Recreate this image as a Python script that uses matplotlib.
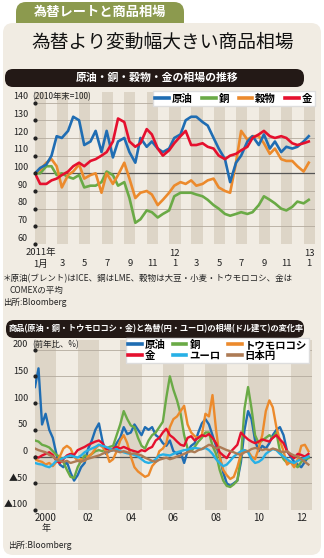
import numpy as np
import pandas as pd
import matplotlib
matplotlib.use("Agg")
import matplotlib.pyplot as plt
import matplotlib.dates as mdates
import matplotlib.transforms as mtrans
from matplotlib.patches import FancyBboxPatch
from matplotlib.lines import Line2D

plt.rcParams['font.family'] = ['Noto Sans CJK JP', 'DejaVu Sans']

# ---- 上段: 2010年末=100 の相場 (半月ごと, 2011/1/1〜2013/1/15)
dates1 = pd.date_range('2011-01-01', periods=50, freq='SMS')
oil1 = [100, 103, 105, 110, 121, 120, 124, 132, 130, 116,
        118, 124, 112, 124, 109, 118, 120, 112, 106, 120,
        115, 118, 114, 112, 114, 120, 122, 130, 132, 132,
        129, 127, 120, 114, 108, 95, 106, 110, 118, 121,
        116, 122, 114, 118, 112, 115, 114, 115, 118, 121]
copper1 = [100, 100, 104, 104, 99, 100, 98, 97, 99, 92,
           93, 93, 95, 101, 99, 93, 95, 86, 72, 74,
           79, 78, 75, 77, 79, 87, 89, 89, 89, 88,
           87, 85, 82, 80, 77, 76, 77, 78, 77, 78,
           82, 87, 85, 83, 80, 79, 81, 84, 83, 85]
grain1 = [100, 102, 106, 108, 104, 92, 99, 101, 105, 97,
          99, 100, 89, 100, 94, 99, 106, 97, 86, 89,
          90, 88, 82, 85, 89, 93, 95, 94, 96, 93,
          94, 96, 97, 92, 90, 89, 106, 124, 119, 121,
          121, 117, 111, 114, 108, 107, 107, 104, 101, 106]
gold1 = [100, 94, 94, 96, 97, 99, 101, 104, 106, 104,
         107, 108, 110, 112, 118, 131, 129, 118, 115, 117,
         125, 122, 114, 110, 113, 117, 121, 124, 116, 116,
         117, 115, 114, 110, 108, 110, 111, 113, 115, 120,
         122, 124, 121, 120, 121, 120, 117, 116, 117, 118]

# ---- 下段: 前年比 % (2カ月ごと, 2000/1〜2012/11)
dates2 = pd.date_range('2000-01-01', periods=78, freq='2MS')
oil2 = [130, 165, 60, 80, 50, 35, 5, -15, -20, -10,
        -30, -45, -35, -20, -12, 15, 30, 50, 62, 30,
        5, 10, 12, 25, 35, 55, 42, 45, 60, 50,
        40, 55, 50, 55, 40, 35, 25, 20, 30, 10,
        5, 8, -12, 10, 20, 25, 45, 62, 70, 60,
        40, 20, 0, -30, -50, -55, -50, -45, -10, 50,
        85, 70, 30, 10, 20, 15, 25, 40, 50, 55,
        40, 10, 0, -10, -15, -20, -10, 0]
copper2 = [30, 28, 22, 20, 17, 10, 3, 0, -10, -25,
           -38, -40, -20, -8, 2, 0, 5, 10, 12, 10,
           15, 18, 20, 40, 60, 85, 70, 58, 55, 35,
           20, 15, 30, 40, 45, 55, 65, 110, 150, 125,
           105, 80, 40, 15, 10, 18, 28, 35, 45, 45,
           20, 5, -25, -45, -55, -57, -52, -45, 0, 90,
           130, 90, 40, 25, 30, 35, 40, 35, 45, 10,
           -5, -12, -10, -15, -20, -10, -5, -3]
corn2 = [-5, -8, -10, -15, -12, -18, -10, 0, 15, 20,
         15, 0, -8, -5, -8, 0, 5, 15, 22, 18,
         10, -10, -5, 10, 30, 40, 25, 0, -20, -28,
         -33, -38, -35, -18, -10, 10, 15, 25, 55, 70,
         75, 85, 95, 60, 45, 38, 35, 40, 80, 75,
         115, 50, 0, -25, -35, -42, -38, -20, 5, 12,
         10, 0, -5, 15, 40, 85, 105, 92, 55, 30,
         10, -15, -10, -20, -5, 20, 22, 10]
gold2 = [0, -2, 2, 5, 8, 3, -8, -12, -5, 2,
         5, 3, 12, 15, 18, 22, 25, 28, 30, 25,
         15, 12, 15, 18, 15, 18, 15, 12, 10, 8,
         12, 10, 15, 18, 30, 35, 45, 52, 40, 35,
         28, 22, 20, 35, 38, 30, 35, 40, 38, 42,
         35, 25, 8, 2, -3, 8, 15, 22, 45, 38,
         32, 28, 25, 28, 32, 30, 28, 35, 40, 32,
         25, 10, 2, -3, 5, 3, 0, 5]
euro2 = [-12, -14, -15, -18, -20, -15, -8, -6, -3, 0,
         2, 0, -2, 2, 8, 12, 15, 18, 22, 20,
         18, 15, 12, 14, 10, 8, 6, 5, 3, 0,
         -5, -10, -12, -10, -5, 2, 4, 3, 2, 5,
         8, 10, 12, 13, 15, 16, 15, 14, 16, 12,
         5, -5, -12, -18, -15, -8, 0, 5, 10, 12,
         8, -5, -12, -10, -5, 5, 10, 14, 12, 5,
         0, -5, -10, -12, -8, -5, -3, 0]
yen2 = [15, 12, 10, 8, 3, 0, -5, -8, -10, -8,
        -12, -10, -8, -10, -6, -4, -2, 0, 2, 5,
        8, 10, 12, 10, 8, 10, 8, 5, 6, 4,
        2, -2, -5, -8, -10, -6, -4, -2, -5, -3,
        0, 2, 5, 8, 10, 8, 12, 14, 18, 22,
        20, 15, 18, 15, 12, 10, 8, 5, 3, 8,
        10, 14, 16, 15, 12, 14, 12, 15, 13, 10,
        8, 10, 5, 2, 0, -5, -10, -15]

C_OIL = '#1f6db3'
C_CU = '#6aaa46'
C_GRAIN = '#ec8a2c'
C_GOLD = '#e5102e'
C_EURO = '#27b0e6'
C_YEN = '#ad7b55'
BG = '#f1ece3'
STRIPE = '#ddd5c7'
GRID = '#b4ab9e'
DARK = '#231916'

W, H = 324, 558
fig = plt.figure(figsize=(W / 100, H / 100), dpi=100)
fig.patch.set_facecolor('white')


def box(x0, y0, x1, y1):
    # pixel box (top-left origin) -> figure fraction
    return [x0 / W, 1 - y1 / H, (x1 - x0) / W, (y1 - y0) / H]


bg = fig.add_axes([0, 0, 1, 1])
bg.set_xlim(0, W)
bg.set_ylim(H, 0)
bg.axis('off')

# tab + panel
bg.add_patch(FancyBboxPatch((16, 2), 168, 30, boxstyle='round,pad=0,rounding_size=10',
                            fc='#8c9a4e', ec='none'))
bg.add_patch(FancyBboxPatch((3, 23), 318, 532, boxstyle='round,pad=0,rounding_size=10',
                            fc=BG, ec='none'))
bg.text(100, 12, '為替レートと商品相場', color='white', fontsize=9.5, fontweight='bold',
        ha='center', va='center')
bg.text(163, 42, '為替より変動幅大きい商品相場', color='#111111', fontsize=13.5,
        ha='center', va='center')

# dark title bars
bg.add_patch(FancyBboxPatch((5, 69), 299, 18, boxstyle='round,pad=0,rounding_size=8',
                            fc=DARK, ec='none'))
bg.text(157, 78, '原油・銅・穀物・金の相場の推移', color='white', fontsize=7.8,
        fontweight='bold', ha='center', va='center')
bg.add_patch(FancyBboxPatch((6, 320), 298, 18, boxstyle='round,pad=0,rounding_size=8',
                            fc=DARK, ec='none'))
bg.text(156, 329, '商品(原油・銅・トウモロコシ・金)と為替(円・ユーロ)の相場(ドル建て)の変化率',
        color='white', fontsize=5.9, fontweight='bold', ha='center', va='center')

# notes
bg.text(3, 279, '＊原油(ブレント)はICE、銅はLME、穀物は大豆・小麦・トウモロコシ、金は',
        fontsize=6.1, color='#222222', va='center')
bg.text(10, 290, 'COMEXの平均', fontsize=6.1, color='#222222', va='center')
bg.text(3, 302, '出所:Bloomberg', fontsize=6.1, color='#222222', va='center')
bg.text(8, 545, '出所:Bloomberg', fontsize=6.1, color='#222222', va='center')


def left_dots(ax, ticks):
    tr = mtrans.blended_transform_factory(ax.transAxes, ax.transData)
    ax.plot([0] * len(ticks), ticks, 'o', ms=2, color='#222222', transform=tr,
            clip_on=False, zorder=6)


# ---------------- chart 1
ax1 = fig.add_axes(box(35, 92, 315, 244))
ax1.set_facecolor('none')
ax1.set_ylim(60, 146)
ax1.set_xlim(pd.Timestamp('2011-01-01'), pd.Timestamp('2013-02-01'))
months = pd.date_range('2011-01-01', '2013-02-01', freq='MS')
for i in range(0, len(months) - 1, 2):
    ax1.axvspan(months[i], months[i + 1], color=STRIPE, lw=0, zorder=0)
ticks1 = list(range(60, 141, 10))
for v in ticks1:
    ax1.axhline(v, color='#555555' if v == 100 else GRID,
                lw=0.9 if v == 100 else 0.6, zorder=1)
ax1.plot(dates1, copper1, color=C_CU, lw=1.9, zorder=3)
ax1.plot(dates1, grain1, color=C_GRAIN, lw=1.9, zorder=3)
ax1.plot(dates1, oil1, color=C_OIL, lw=1.9, zorder=4)
ax1.plot(dates1, gold1, color=C_GOLD, lw=1.9, zorder=5)
for s in ax1.spines.values():
    s.set_visible(False)
ax1.set_xticks([])
ax1.set_yticks([])
left_dots(ax1, ticks1)
tr1 = mtrans.blended_transform_factory(ax1.transAxes, ax1.transData)
for v in ticks1:
    ax1.text(-0.025, v + 0.8, str(v), transform=tr1, ha='right', va='bottom',
             fontsize=6.5, color='#222222')
ax1.text(-0.01, 140.8, '(2010年末=100)', transform=tr1, ha='left', va='bottom',
         fontsize=6, color='#222222')
mid = months[:-1] + pd.Timedelta(days=15)
for i, d in enumerate(mid):
    if i % 2 == 0:
        ax1.annotate('1月' if i == 0 else str(d.month), (d, 0), xycoords=('data', 'axes fraction'),
                     xytext=(0, -20), textcoords='offset pixels', ha='center', va='center',
                     fontsize=6.8, color='#222222')
for d, lab in [(mid[0], '2011年'), (mid[12], '12'), (mid[24], '13')]:
    ax1.annotate(lab, (d, 0), xycoords=('data', 'axes fraction'),
                 xytext=(0, -9), textcoords='offset pixels', ha='center', va='center',
                 fontsize=6.8, color='#222222')
h1 = [Line2D([], [], color=c, lw=2.6) for c in (C_OIL, C_CU, C_GRAIN, C_GOLD)]
ax1.legend(h1, ['原油', '銅', '穀物', '金'], ncol=4, loc='upper right',
           bbox_to_anchor=(315 / W, 1 - 91 / H), bbox_transform=fig.transFigure,
           prop={'weight': 'bold', 'size': 7.5}, frameon=True,
           fancybox=False, edgecolor='#dddddd', framealpha=1, borderpad=0.25,
           handlelength=1.3, handletextpad=0.3, columnspacing=0.9,
           borderaxespad=0)

# ---------------- chart 2
ax2 = fig.add_axes(box(35, 340, 312, 510))
ax2.set_facecolor('none')
ax2.set_ylim(-100, 218)
ax2.set_xlim(pd.Timestamp('2000-01-01'), pd.Timestamp('2013-01-01'))
years = pd.date_range('2000-01-01', '2013-01-01', freq='YS')
for i in range(0, len(years) - 1, 2):
    ax2.axvspan(years[i], years[i + 1], color=STRIPE, lw=0, zorder=0)
ticks2 = [-100, -50, 0, 50, 100, 150, 200]
for v in ticks2:
    ax2.axhline(v, color='#555555' if v == 0 else GRID,
                lw=0.9 if v == 0 else 0.6, zorder=1)
ax2.plot(dates2, oil2, color=C_OIL, lw=1.7, zorder=3)
ax2.plot(dates2, copper2, color=C_CU, lw=1.7, zorder=3)
ax2.plot(dates2, corn2, color=C_GRAIN, lw=1.7, zorder=3)
ax2.plot(dates2, gold2, color=C_GOLD, lw=1.7, zorder=4)
ax2.plot(dates2, euro2, color=C_EURO, lw=1.7, zorder=4)
ax2.plot(dates2, yen2, color=C_YEN, lw=1.7, zorder=5)
for s in ax2.spines.values():
    s.set_visible(False)
ax2.set_xticks([])
ax2.set_yticks([])
left_dots(ax2, ticks2)
tr2 = mtrans.blended_transform_factory(ax2.transAxes, ax2.transData)
for v in ticks2:
    lab = str(v) if v >= 0 else '▲' + str(-v)
    ax2.text(-0.025, v + 1, lab, transform=tr2, ha='right', va='bottom',
             fontsize=6.5, color='#222222')
ax2.text(-0.01, 201, '(前年比、%)', transform=tr2, ha='left', va='bottom',
         fontsize=6, color='#222222')
for i, y in enumerate(years[:-1]):
    if i % 2 == 0:
        d = y + pd.Timedelta(days=182)
        ax2.annotate('2000' if i == 0 else '%02d' % (y.year % 100), (d, 0),
                     xycoords=('data', 'axes fraction'), xytext=(0, -8),
                     textcoords='offset pixels', ha='center', va='center',
                     fontsize=7, color='#222222')
ax2.annotate('年', (years[0] + pd.Timedelta(days=182), 0), xycoords=('data', 'axes fraction'),
             xytext=(0, -18), textcoords='offset pixels', ha='center', va='center',
             fontsize=6.5, color='#222222')
names2 = ['原油', '金', '銅', 'ユーロ', 'トウモロコシ', '日本円']
cols2 = [C_OIL, C_GOLD, C_CU, C_EURO, C_GRAIN, C_YEN]
h2 = [Line2D([], [], color=c, lw=2.6) for c in cols2]
ax2.legend(h2, names2, ncol=3, loc='upper right',
           bbox_to_anchor=(309 / W, 1 - 338 / H), bbox_transform=fig.transFigure,
           prop={'weight': 'bold', 'size': 7.5}, frameon=True,
           fancybox=False, edgecolor='#dddddd', framealpha=1, borderpad=0.2,
           handlelength=1.3, handletextpad=0.3, columnspacing=0.7,
           labelspacing=0.1, borderaxespad=0)

fig.savefig('out.png', dpi=100, facecolor=fig.get_facecolor())
